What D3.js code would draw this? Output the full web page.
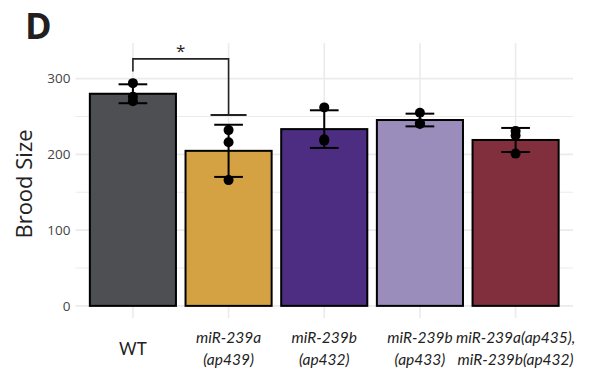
<!DOCTYPE html>
<html><head><meta charset="utf-8">
<script src="https://cdn.jsdelivr.net/npm/d3@7"></script>
<style>body{margin:0;background:#fff}svg{display:block}</style>
</head><body>
<svg id="c" width="594" height="375"></svg>
<script>
const categories = ["WT", "miR-239a (ap439)", "miR-239b (ap432)", "miR-239b (ap433)", "miR-239a(ap435), miR-239b(ap432)"];
const labelLines = [["WT"], ["miR-239a", "(ap439)"], ["miR-239b", "(ap432)"], ["miR-239b", "(ap433)"], ["miR-239a(ap435),", "miR-239b(ap432)"]];
const italicLabel = [false, true, true, true, true];
const points = [[294, 276, 270], [232, 216, 166], [262, 220, 218], [255, 241, 240], [231, 225, 201]];
const colors = ["#4e4f53", "#d5a243", "#4c2d81", "#9b8dbb", "#812f3c"];
const yTicks = [0, 100, 200, 300];
const yMinor = [50, 150, 250];
const bracket = {from: 0, to: 1, y: 326, leftEnd: 309.5, rightEnd: 252, label: "*"};

const svg = d3.select("#c");
const font = "'Open Sans', 'Noto Sans', sans-serif";
const labFont = "Lato, 'Open Sans', sans-serif";
const x = d3.scaleBand().domain(categories).range([75.5, 573]).paddingOuter(0.1).paddingInner(0);
const y = d3.scaleLinear().domain([-16, 347]).range([318, 43]);
const bw = x.bandwidth();
const cx = c => x(c) + bw / 2;

const stats = points.map(p => ({m: d3.mean(p), s: d3.deviation(p)}));

// grid
const g = svg.append("g");
yMinor.forEach(v => g.append("line").attr("x1", 75.5).attr("x2", 573).attr("y1", y(v)).attr("y2", y(v)).attr("stroke", "#ebebeb").attr("stroke-width", 1));
yTicks.forEach(v => g.append("line").attr("x1", 75.5).attr("x2", 573).attr("y1", y(v)).attr("y2", y(v)).attr("stroke", "#ebebeb").attr("stroke-width", 1.6));
categories.forEach(c => g.append("line").attr("x1", cx(c)).attr("x2", cx(c)).attr("y1", 43).attr("y2", 318).attr("stroke", "#ebebeb").attr("stroke-width", 1.6));

// y axis labels
const yAxis = d3.axisLeft(y).tickValues(yTicks).tickSize(0).tickPadding(5);
const ya = svg.append("g").attr("transform", "translate(75.5,0)").call(yAxis);
ya.select(".domain").remove();
ya.selectAll("text").attr("font-family", font).attr("font-size", 13.5).attr("fill", "#444");

// bars
const barW = bw * 0.9;
categories.forEach((c, i) => {
  svg.append("rect").attr("x", cx(c) - barW / 2).attr("width", barW)
    .attr("y", y(stats[i].m)).attr("height", y(0) - y(stats[i].m))
    .attr("fill", colors[i]).attr("stroke", "#000").attr("stroke-width", 2);
});

// error bars
const capW = bw * 0.3;
categories.forEach((c, i) => {
  const {m, s} = stats[i];
  const e = svg.append("g").attr("stroke", "#000").attr("stroke-width", 2);
  e.append("line").attr("x1", cx(c)).attr("x2", cx(c)).attr("y1", y(m + s)).attr("y2", y(m - s));
  [m + s, m - s].forEach(v => e.append("line").attr("x1", cx(c) - capW / 2).attr("x2", cx(c) + capW / 2).attr("y1", y(v)).attr("y2", y(v)));
});

// points
categories.forEach((c, i) => {
  points[i].forEach(v => svg.append("circle").attr("cx", cx(c)).attr("cy", y(v)).attr("r", 5).attr("fill", "#000"));
});

// bracket
const bx1 = cx(categories[bracket.from]), bx2 = cx(categories[bracket.to]);
svg.append("path").attr("d", `M${bx1},${y(bracket.leftEnd)}V${y(bracket.y)}H${bx2}V${y(bracket.rightEnd)}`)
  .attr("fill", "none").attr("stroke", "#222").attr("stroke-width", 1.6);
svg.append("line").attr("x1", bx2 - 18).attr("x2", bx2 + 18).attr("y1", y(bracket.rightEnd)).attr("y2", y(bracket.rightEnd)).attr("stroke", "#222").attr("stroke-width", 2);
svg.append("text").attr("x", (bx1 + bx2) / 2).attr("y", 57).attr("text-anchor", "middle")
  .attr("font-family", font).attr("font-size", 17).attr("fill", "#222").text(bracket.label);

// x labels
categories.forEach((c, i) => {
  const lines = labelLines[i];
  const t = svg.append("text").attr("text-anchor", "middle").attr("font-family", labFont).attr("font-size", 15.5)
    .attr("fill", "#222").attr("font-style", italicLabel[i] ? "italic" : "normal");
  if (lines.length === 1) {
    t.append("tspan").attr("x", cx(c)).attr("y", 355).attr("font-size", 17).text(lines[0]);
  } else {
    lines.forEach((l, k) => t.append("tspan").attr("x", cx(c)).attr("y", 343 + k * 22).text(l));
  }
});

// y title
svg.append("text").attr("transform", "translate(32,184) rotate(-90)").attr("text-anchor", "middle")
  .attr("font-family", font).attr("font-size", 22).attr("fill", "#222").text("Brood Size");

// panel tag
svg.append("text").attr("x", 25).attr("y", 39).attr("font-family", font).attr("font-weight", "bold")
  .attr("font-size", 36).attr("fill", "#231f20").text("D");
</script>
</body></html>
